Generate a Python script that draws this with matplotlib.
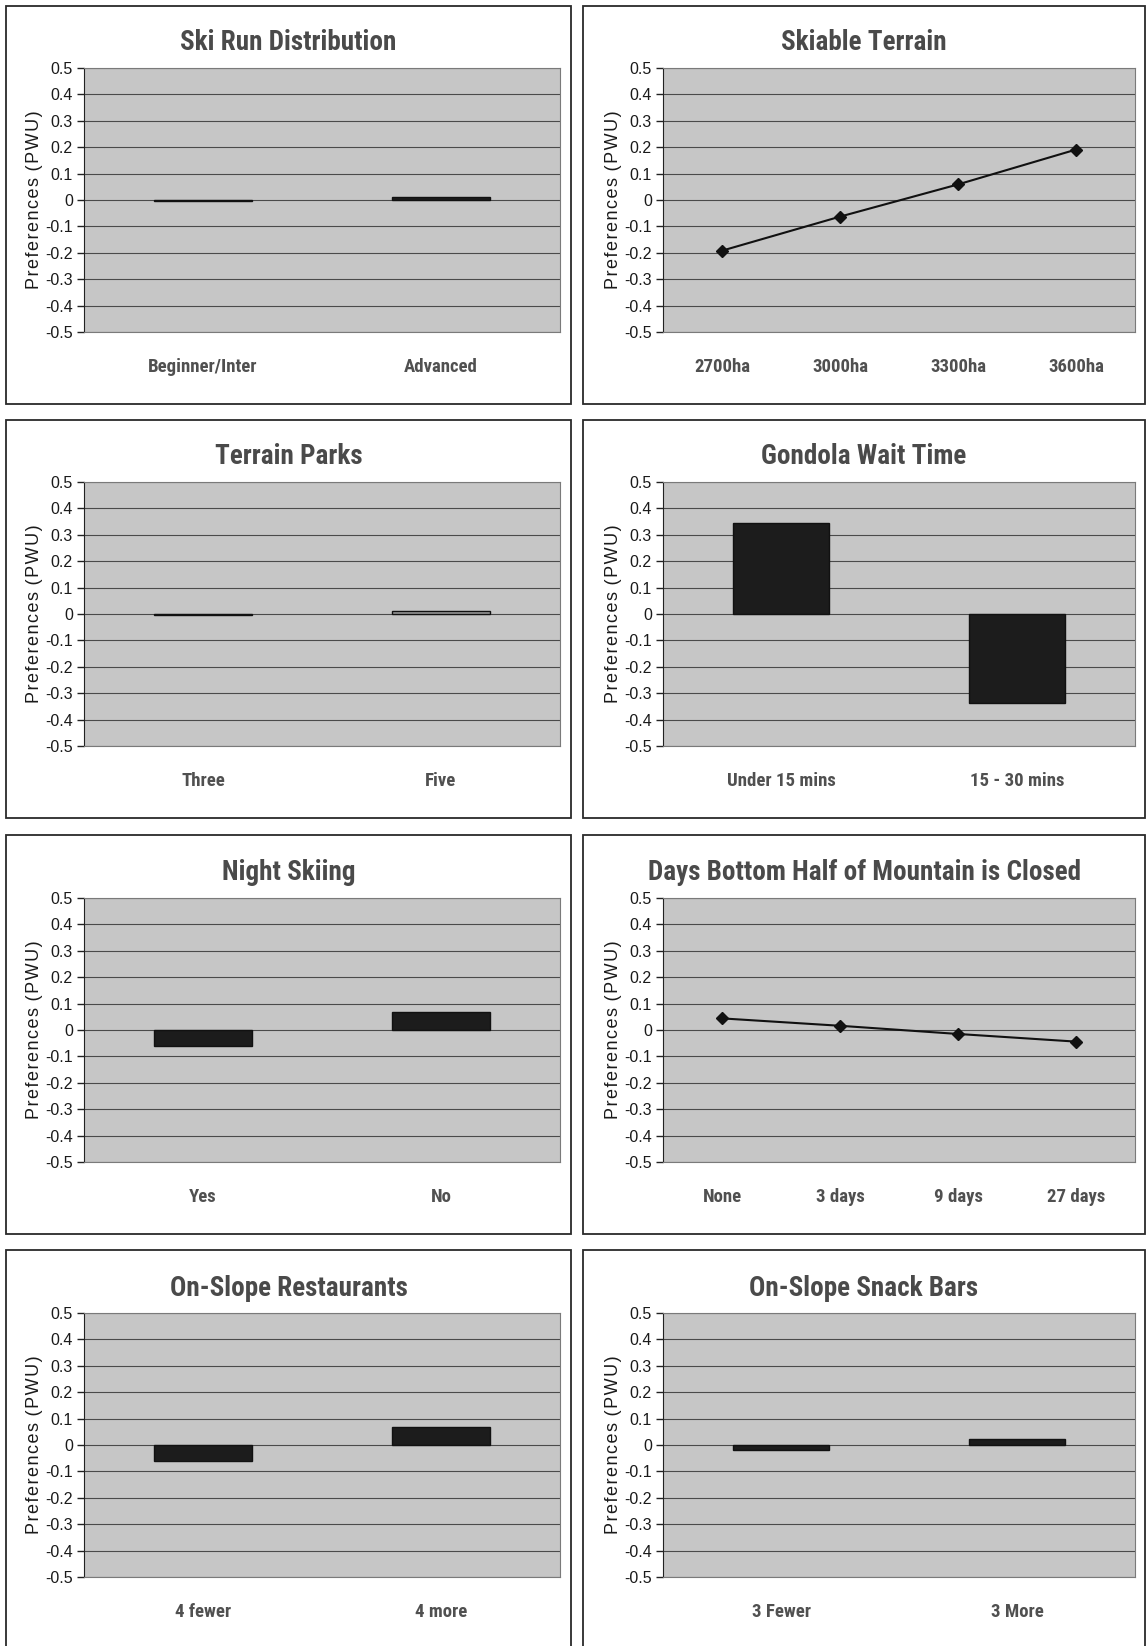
import os
import matplotlib
matplotlib.use("Agg")
import matplotlib.pyplot as plt
from matplotlib import font_manager as fm
from matplotlib.font_manager import FontProperties
from matplotlib.patches import Rectangle

W, H = 1147, 1646

# values (PWU)
ski_run_labels = ['Beginner/Inter', 'Advanced']
ski_run_values = [-0.003, 0.010]
terrain_labels = ['2700ha', '3000ha', '3300ha', '3600ha']
terrain_values = [-0.192, -0.063, 0.059, 0.191]
parks_labels = ['Three', 'Five']
parks_values = [-0.004, 0.010]
gondola_labels = ['Under 15 mins', '15 - 30 mins']
gondola_values = [0.345, -0.338]
night_labels = ['Yes', 'No']
night_values = [-0.062, 0.067]
closed_labels = ['None', '3 days', '9 days', '27 days']
closed_values = [0.044, 0.016, -0.015, -0.044]
rest_labels = ['4 fewer', '4 more']
rest_values = [-0.060, 0.067]
snack_labels = ['3 Fewer', '3 More']
snack_values = [-0.020, 0.022]

ytick_values = [-0.5, -0.4, -0.3, -0.2, -0.1, 0, 0.1, 0.2, 0.3, 0.4, 0.5]
ytick_labels = ['-0.5', '-0.4', '-0.3', '-0.2', '-0.1', '0', '0.1', '0.2', '0.3', '0.4', '0.5']

panels = [
    ('Ski Run Distribution', ski_run_labels, ski_run_values, 'bar'),
    ('Skiable Terrain', terrain_labels, terrain_values, 'line'),
    ('Terrain Parks', parks_labels, parks_values, 'bar'),
    ('Gondola Wait Time', gondola_labels, gondola_values, 'bar'),
    ('Night Skiing', night_labels, night_values, 'bar'),
    ('Days Bottom Half of Mountain is Closed', closed_labels, closed_values, 'line'),
    ('On-Slope Restaurants', rest_labels, rest_values, 'bar'),
    ('On-Slope Snack Bars', snack_labels, snack_values, 'bar'),
]

# layout in pixels (top-left origin)
box_x = [(6, 571), (583, 1145)]
box_y = [(6, 404), (420, 818), (835, 1234), (1250, 1660)]
plot_x = [(84, 560), (663, 1135)]
plot_top = [68, 482, 898, 1313]
plot_h = 264


def find_condensed_bold():
    # the titles are set in a narrow bold face (Arial Narrow look)
    prefs = ['liberationsansnarrow', 'arialnarrow', 'robotocondensed', 'notosanscondensed',
             'notosans-condensed', 'dejavusanscondensed', 'opensanscondensed',
             'opensans-condensed', 'condensed', 'narrow']
    found = []
    for f in fm.fontManager.ttflist:
        key = (f.name + os.path.basename(f.fname)).lower().replace(' ', '').replace('_', '')
        w = f.weight if isinstance(f.weight, int) else {'bold': 700}.get(f.weight, 400)
        if w < 600 or w > 800 or f.style != 'normal':
            continue
        if 'extracondensed' in key or 'ultracondensed' in key:
            continue
        for rank, p in enumerate(prefs):
            if p in key:
                if 'semicondensed' in key:
                    rank += 20
                found.append((rank, f.fname))
                break
    if found:
        return sorted(found)[0][1]
    return None


plain = ['Liberation Sans', 'DejaVu Sans']
narrow_file = find_condensed_bold()


def narrow_font(size):
    if narrow_file:
        return FontProperties(fname=narrow_file, size=size)
    return FontProperties(family=plain, weight='bold', size=size)


fig = plt.figure(figsize=(W / 100, H / 100), dpi=100)
renderer = fig.canvas.get_renderer()


def text_width(s, fp):
    t = fig.text(0, 0, s, fontproperties=fp)
    w = t.get_window_extent(renderer).width
    t.remove()
    return w


# size the narrow text so its widths match the scan
title_size = 20 * 216 / text_width('Ski Run Distribution', narrow_font(20))
title_size = min(title_size, 20 * 520 / text_width(panels[5][0], narrow_font(20)))
xlab_size = 14 * 74 / text_width('Advanced', narrow_font(14))

ylabel = '\u200a'.join('Preferences') + ' \u200a(\u200aP\u200aW\u200aU\u200a)'

for i, (title, labels, values, kind) in enumerate(panels):
    row, col = i // 2, i % 2

    bx0, bx1 = box_x[col]
    by0, by1 = box_y[row]
    fig.patches.append(Rectangle((bx0 / W, 1 - by1 / H), (bx1 - bx0) / W, (by1 - by0) / H,
                                 transform=fig.transFigure, fill=False,
                                 edgecolor='#2a2a2a', lw=1.3))

    x0, x1 = plot_x[col]
    y0 = plot_top[row]
    ax = fig.add_axes([x0 / W, 1 - (y0 + plot_h) / H, (x1 - x0) / W, plot_h / H])
    ax.set_facecolor('#c6c6c6')
    n = len(labels)
    pos = list(range(n))
    if kind == 'bar':
        if title == 'Terrain Parks':
            colors = ['#1c1c1c', '#9a9a9a']
        else:
            colors = ['#1c1c1c'] * n
        ax.bar(pos, values, width=0.41, color=colors, edgecolor='#111111', lw=1, zorder=3)
    else:
        ax.plot(pos, values, color='#111111', lw=1.5, marker='D', markersize=6, zorder=3)
    ax.set_xlim(-0.5, n - 0.5)
    ax.set_ylim(-0.5, 0.5)
    ax.set_yticks(ytick_values, ytick_labels, family=plain, fontsize=11.5, color='#1a1a1a')
    ax.set_xticks(pos, labels)
    for lab in ax.get_xticklabels():
        lab.set_fontproperties(narrow_font(xlab_size))
        lab.set_color('#505050')
    ax.tick_params(axis='x', length=0, pad=19)
    ax.tick_params(axis='y', length=5, width=1, direction='out', pad=3, color='#222222')
    ax.yaxis.grid(True, color='#4a4a4a', lw=0.8)
    ax.set_axisbelow(True)
    for s in ['top', 'right', 'bottom']:
        ax.spines[s].set_color('#7a7a7a')
        ax.spines[s].set_linewidth(0.8)
    ax.spines['left'].set_color('#222222')
    ax.set_ylabel(ylabel, family=plain, fontsize=13, color='#1a1a1a')
    ax.yaxis.set_label_coords(-41 / (x1 - x0), 0.5)

    fig.text((bx0 + bx1) / 2 / W, 1 - (y0 - 25) / H, title, ha='center', va='center',
             fontproperties=narrow_font(title_size), color='#4a4a4a')

fig.savefig('out.png', dpi=100, facecolor='white')
